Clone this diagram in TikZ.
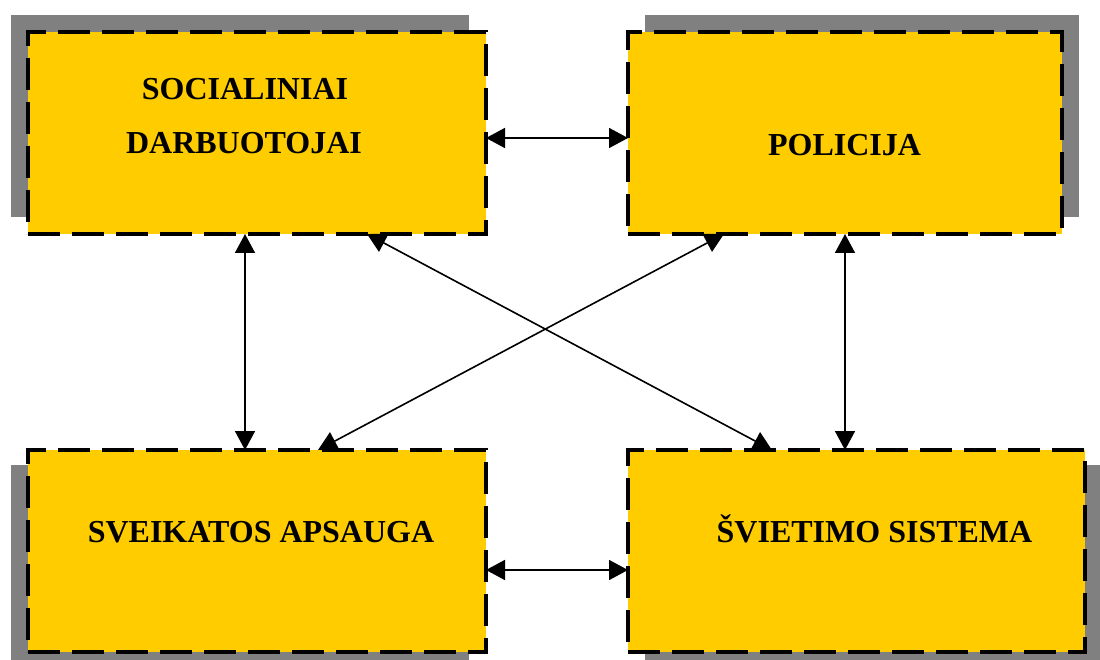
\documentclass[tikz,border=0pt]{standalone}
\usepackage{fontspec}
\setmainfont{Liberation Serif}
\usetikzlibrary{arrows.meta}
\definecolor{boxyellow}{HTML}{FFCC00}
\definecolor{shadowgray}{HTML}{808080}
\tikzset{
  orgbox/.style={draw=black, fill=boxyellow, line width=4pt,
    dash pattern=on 32pt off 12pt, inner sep=0pt, outer sep=0pt},
  shadowfill/.style={fill=shadowgray},
  lbl/.style={font=\fontsize{32}{54}\selectfont\bfseries, inner sep=0pt, anchor=base},
  link/.style={line width=1.6pt,
    {Triangle[length=19pt,width=20pt]}-{Triangle[length=19pt,width=20pt]}}
}
\begin{document}
\begin{tikzpicture}[x=1pt,y=-1pt]
\useasboundingbox (0,0) rectangle (1100,660);
\clip (0,0) rectangle (1100,660);
% shadows
\fill[shadowfill] (11,15) rectangle (469,217);
\fill[shadowfill] (645,15) rectangle (1079,217);
\fill[shadowfill] (11,465) rectangle (469,667);
\fill[shadowfill] (645,465) rectangle (1102,667);
% boxes
\node[orgbox, minimum width=458pt, minimum height=202pt] (A) at (257,133) {};
\node[orgbox, minimum width=434pt, minimum height=202pt] (B) at (845,133) {};
\node[orgbox, minimum width=458pt, minimum height=202pt] (C) at (257,551) {};
\node[orgbox, minimum width=457pt, minimum height=202pt] (D) at (856.5,551) {};
% labels
\node[lbl] (ta1) at (245,100) {SOCIALINIAI};
\node[lbl] (ta2) at (244,154) {DARBUOTOJAI};
\node[lbl] (tb) at (844.5,156) {POLICIJA};
\node[lbl] (tc) at (261,542) {SVEIKATOS APSAUGA};
\node[lbl] (td) at (874.5,542) {ŠVIETIMO SISTEMA};
% connectors
\draw[link] ([yshift=-5pt]A.east) -- ([yshift=-5pt]B.west);
\draw[link] ([yshift=-19pt]C.east) -- ([yshift=-19pt]D.west);
\draw[link] ([xshift=-12pt]A.south) -- ([xshift=-12pt]C.north);
\draw[link] (B.south) -- (B.south |- D.north);
\draw[link] ([xshift=110pt]A.south) -- ([xshift=-84.5pt]D.north);
\draw[link] ([xshift=-121pt]B.south) -- ([xshift=61pt]C.north);
\end{tikzpicture}
\end{document}
